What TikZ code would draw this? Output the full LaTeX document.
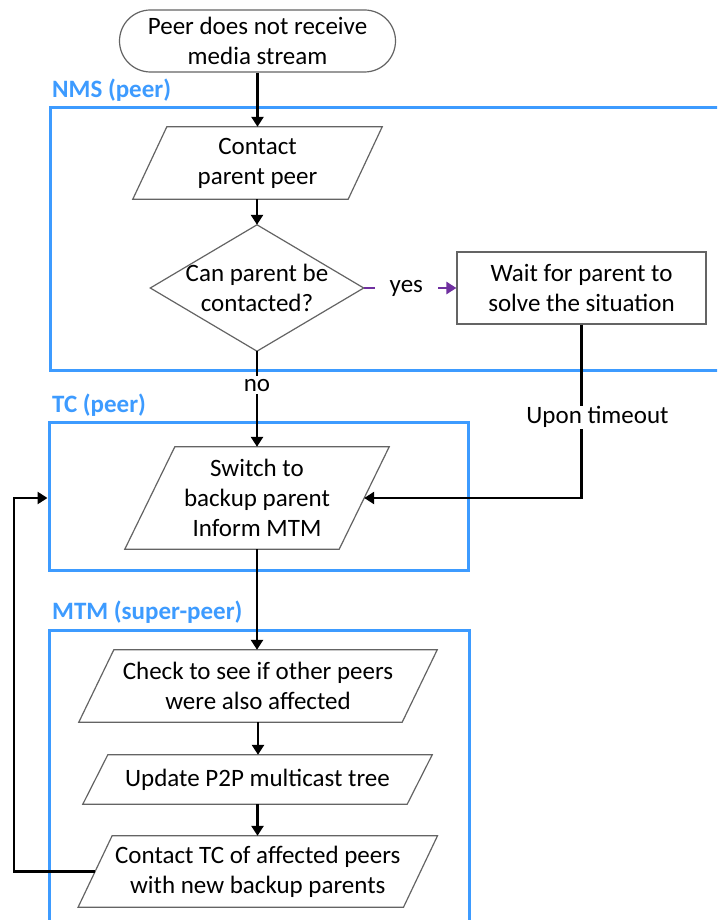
\documentclass[tikz,border=0pt]{standalone}
\usepackage{fontspec}
\setmainfont{Carlito}
\usetikzlibrary{arrows.meta,calc}

\definecolor{laneblue}{RGB}{61,155,255}
\definecolor{yespurple}{RGB}{112,48,160}
\definecolor{shapegray}{RGB}{100,100,100}

% outline of a parallelogram around a (borderless) node; #2 = half of the horizontal slant
\newcommand\slantbox[2]{%
  \draw[frame] ($(#1.north west)+(#2,0)$) -- ($(#1.north east)+(#2,0)$)
    -- ($(#1.south east)-(#2,0)$) -- ($(#1.south west)-(#2,0)$) -- cycle;}

\begin{document}
\begin{tikzpicture}[x=1pt,y=-1pt,
  every node/.style={font=\fontsize{25}{30}\selectfont, align=center, inner sep=0pt},
  frame/.style={draw=shapegray, line width=1.2pt},
  slot/.style 2 args={minimum width=#1, minimum height=#2},
  conn/.style={draw=black, line width=2.6pt, -{Triangle[length=10pt,width=12pt]}},
  yesline/.style={draw=yespurple, line width=2.6pt, -{Triangle[length=10pt,width=12pt]}},
  lane/.style={draw=laneblue, line width=3pt},
  lanelabel/.style={text=laneblue, font=\fontsize{25}{30}\selectfont\bfseries, anchor=west},
  cut/.style={fill=white}
]
\useasboundingbox (0,0) rectangle (717,920);
\clip (0,0) rectangle (717,920);
\fill[white] (0,0) rectangle (717,920);

% swimlanes
\draw[lane] (735,108) -- (50,108) -- (50,370) -- (735,370);
\node[lane, slot={419pt}{148pt}] (tc) at (258.5,496) {};
\draw[lane] (469,940) -- (469,630) -- (49,630) -- (49,940);

\node[lanelabel] (nmslbl) at (52,90) {NMS (peer)};
\node[lanelabel] (tclbl) at (52,405) {TC (peer)};
\node[lanelabel] (mtmlbl) at (52,612) {MTM (super-peer)};

% flowchart steps
\node[frame, rounded corners=31pt, slot={276pt}{62pt}] (start) at (257.5,41) {Peer does not receive\\media stream};
\node[slot={215pt}{72pt}] (cpp) at (257.5,163) {Contact\\parent peer};
\slantbox{cpp}{17}
\node[slot={213pt}{126pt}] (dia) at (257,288) {Can parent be\\contacted?};
\draw[frame] (dia.north) -- (dia.east) -- (dia.south) -- (dia.west) -- cycle;
\node[frame, slot={249pt}{72pt}] (wait) at (581.5,288) {Wait for parent to\\solve the situation};
\node[slot={214pt}{102pt}] (sw) at (257,498) {Switch to\\backup parent\\Inform MTM};
\slantbox{sw}{25}
\node[slot={323pt}{72pt}] (chk) at (258,686) {Check to see if other peers\\were also affected};
\slantbox{chk}{17.5}
\node[slot={324pt}{49pt}] (upd) at (257.5,779.5) {Update P2P multicast tree};
\slantbox{upd}{12.5}
\node[slot={325pt}{71pt}] (ctc) at (257.8,871.5) {Contact TC of affected peers\\with new backup parents};
\slantbox{ctc}{17}

% connectors
\draw[conn] (start.south) -- (start.south |- cpp.north);
\draw[conn] (cpp.south -| dia.north) -- (dia.north);
\draw[yesline] (dia.east) -- node[cut, pos=0.46, inner xsep=15pt, inner ysep=4pt] {yes} (wait.west);
\draw[conn] (dia.south) -- node[cut, pos=0.354, inner xsep=2pt, inner ysep=3pt] {no} (dia.south |- sw.north);
\draw[conn] (wait.south) |- node[cut, pos=0.267, xshift=16pt, inner sep=1pt] {Upon timeout} (sw.east);
\draw[conn] (sw.south) -- (sw.south |- chk.north);
\draw[conn] (chk.south) -- (chk.south |- upd.north);
\draw[conn] (upd.south) -- (upd.south |- ctc.north);
\coordinate (back) at (14,498);
\draw[conn] (ctc.west) -| (back) -- (tc.west |- back);
\end{tikzpicture}
\end{document}
